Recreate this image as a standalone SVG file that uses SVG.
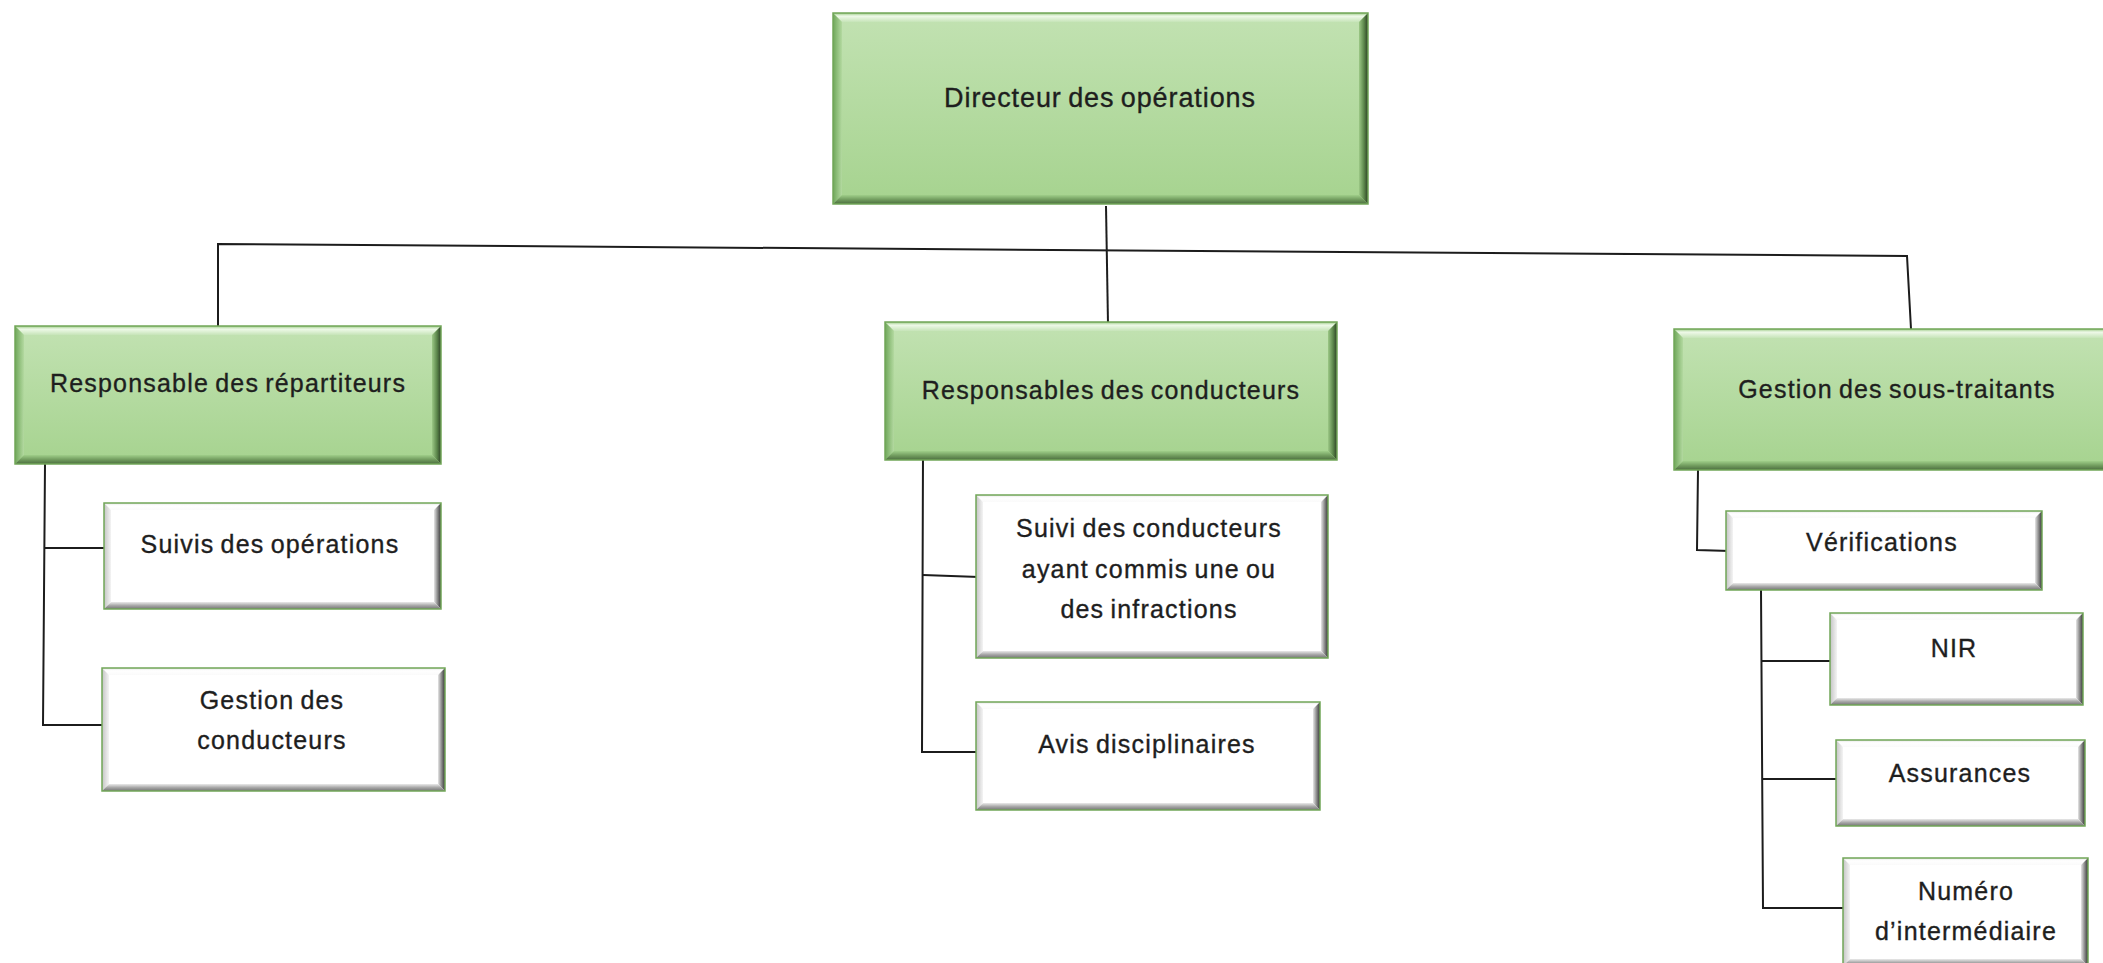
<svg xmlns="http://www.w3.org/2000/svg" width="2103" height="963" viewBox="0 0 2103 963">
<style>
.gface{fill:url(#gFace)}
.wface{fill:#ffffff}
.gT{fill:url(#gTopG)} .gL{fill:url(#gLeftG)} .gR{fill:url(#gRightG)} .gB{fill:url(#gBottomG)}
.wT{fill:url(#gTopW)} .wL{fill:url(#gLeftW)} .wR{fill:url(#gRightW)} .wB{fill:url(#gBottomW)}
.bd{fill:none;stroke:#72a658;stroke-width:1.5}
.t{font-family:"Liberation Sans",Arial,sans-serif;font-size:25px;letter-spacing:1.2px;word-spacing:-2px;fill:#1e1e1e;stroke:#1e1e1e;stroke-width:0.35px;text-anchor:middle}
.tb{font-size:27px;letter-spacing:0.9px}
.cn{fill:none;stroke:#1c1c1c;stroke-width:2;stroke-linejoin:miter}
</style>
<defs>
<linearGradient id="gFace" x1="0" y1="0" x2="0" y2="1"><stop offset="0" stop-color="#c2e2b2"/><stop offset="1" stop-color="#a6d38f"/></linearGradient>
<linearGradient id="gTopG" x1="0" y1="0" x2="0" y2="1"><stop offset="0" stop-color="#9ccb86"/><stop offset="0.35" stop-color="#eef9e8"/><stop offset="1" stop-color="#c6e4b8"/></linearGradient>
<linearGradient id="gLeftG" x1="0" y1="0" x2="1" y2="0"><stop offset="0" stop-color="#6fa75a"/><stop offset="1" stop-color="#b3d9a0"/></linearGradient>
<linearGradient id="gRightG" x1="0" y1="0" x2="1" y2="0"><stop offset="0" stop-color="#9cc886"/><stop offset="0.55" stop-color="#5c874b"/><stop offset="1" stop-color="#2b3f24"/></linearGradient>
<linearGradient id="gBottomG" x1="0" y1="0" x2="0" y2="1"><stop offset="0" stop-color="#9fce89"/><stop offset="0.5" stop-color="#729d5f"/><stop offset="1" stop-color="#4c6e3f"/></linearGradient>
<linearGradient id="gTopW" x1="0" y1="0" x2="0" y2="1"><stop offset="0" stop-color="#e6e6e6"/><stop offset="0.4" stop-color="#ffffff"/><stop offset="1" stop-color="#fafafa"/></linearGradient>
<linearGradient id="gLeftW" x1="0" y1="0" x2="1" y2="0"><stop offset="0" stop-color="#c4c4c4"/><stop offset="1" stop-color="#f4f4f4"/></linearGradient>
<linearGradient id="gRightW" x1="0" y1="0" x2="1" y2="0"><stop offset="0" stop-color="#e6e6e6"/><stop offset="0.55" stop-color="#848484"/><stop offset="1" stop-color="#363636"/></linearGradient>
<linearGradient id="gBottomW" x1="0" y1="0" x2="0" y2="1"><stop offset="0" stop-color="#eaeaea"/><stop offset="0.5" stop-color="#a8a8a8"/><stop offset="1" stop-color="#747474"/></linearGradient>
</defs>

<g id="connectors">
<polyline class="cn" points="1106,206 1108,324"/>
<polyline class="cn" points="218,327 218,244 1907,256 1911,329"/>
<polyline class="cn" points="45,464 43,725 103,725"/>
<polyline class="cn" points="45,548 110,548"/>
<polyline class="cn" points="923,453 922,752 979,752"/>
<polyline class="cn" points="923,575 979,577"/>
<polyline class="cn" points="1698,470 1697,550 1730,551"/>
<polyline class="cn" points="1761,590 1763,908 1846,908"/>
<polyline class="cn" points="1762,661 1832,661"/>
<polyline class="cn" points="1763,779 1838,779"/>
</g>

<g id="node-directeur">
<rect class="gface" x="833" y="13" width="535" height="191"/>
<polygon class="gT" points="833,13 1368,13 1359,22 842,22"/>
<polygon class="gL" points="833,13 842,22 842,195 833,204"/>
<polygon class="gR" points="1368,13 1368,204 1359,195 1359,22"/>
<polygon class="gB" points="833,204 1368,204 1359,195 842,195"/>
<rect class="bd" x="833" y="13" width="535" height="191"/>
<text class="t tb" x="1100" y="107">Directeur des opérations</text>
</g>

<g id="node-repartiteurs">
<rect class="gface" x="15" y="326" width="426" height="138"/>
<polygon class="gT" points="15,326 441,326 432,335 24,335"/>
<polygon class="gL" points="15,326 24,335 24,455 15,464"/>
<polygon class="gR" points="441,326 441,464 432,455 432,335"/>
<polygon class="gB" points="15,464 441,464 432,455 24,455"/>
<rect class="bd" x="15" y="326" width="426" height="138"/>
<text class="t" x="228" y="392">Responsable des répartiteurs</text>
</g>

<g id="node-conducteurs">
<rect class="gface" x="885" y="322" width="452" height="138"/>
<polygon class="gT" points="885,322 1337,322 1328,331 894,331"/>
<polygon class="gL" points="885,322 894,331 894,451 885,460"/>
<polygon class="gR" points="1337,322 1337,460 1328,451 1328,331"/>
<polygon class="gB" points="885,460 1337,460 1328,451 894,451"/>
<rect class="bd" x="885" y="322" width="452" height="138"/>
<text class="t" x="1111" y="399">Responsables des conducteurs</text>
</g>

<g id="node-soustraitants">
<rect class="gface" x="1674" y="329" width="438" height="141"/>
<polygon class="gT" points="1674,329 2112,329 2103,338 1683,338"/>
<polygon class="gL" points="1674,329 1683,338 1683,461 1674,470"/>
<polygon class="gB" points="1674,470 2112,470 2103,461 1683,461"/>
<rect class="bd" x="1674" y="329" width="438" height="141"/>
<text class="t" x="1897" y="398">Gestion des sous-traitants</text>
</g>

<g id="node-suivis-operations">
<rect class="wface" x="104" y="503" width="337" height="106"/>
<polygon class="wT" points="104,503 441,503 434,510 111,510"/>
<polygon class="wL" points="104,503 111,510 111,602 104,609"/>
<polygon class="wR" points="441,503 441,609 434,602 434,510"/>
<polygon class="wB" points="104,609 441,609 434,602 111,602"/>
<rect class="bd" x="104" y="503" width="337" height="106"/>
<text class="t" x="270" y="553">Suivis des opérations</text>
</g>

<g id="node-gestion-conducteurs">
<rect class="wface" x="102" y="668" width="343" height="123"/>
<polygon class="wT" points="102,668 445,668 438,675 109,675"/>
<polygon class="wL" points="102,668 109,675 109,784 102,791"/>
<polygon class="wR" points="445,668 445,791 438,784 438,675"/>
<polygon class="wB" points="102,791 445,791 438,784 109,784"/>
<rect class="bd" x="102" y="668" width="343" height="123"/>
<text class="t" x="272" y="709">Gestion des</text>
<text class="t" x="272" y="749">conducteurs</text>
</g>

<g id="node-suivi-infractions">
<rect class="wface" x="976" y="495" width="352" height="163"/>
<polygon class="wT" points="976,495 1328,495 1321,502 983,502"/>
<polygon class="wL" points="976,495 983,502 983,651 976,658"/>
<polygon class="wR" points="1328,495 1328,658 1321,651 1321,502"/>
<polygon class="wB" points="976,658 1328,658 1321,651 983,651"/>
<rect class="bd" x="976" y="495" width="352" height="163"/>
<text class="t" x="1149" y="537">Suivi des conducteurs</text>
<text class="t" x="1149" y="578">ayant commis une ou</text>
<text class="t" x="1149" y="618">des infractions</text>
</g>

<g id="node-avis">
<rect class="wface" x="976" y="702" width="344" height="108"/>
<polygon class="wT" points="976,702 1320,702 1313,709 983,709"/>
<polygon class="wL" points="976,702 983,709 983,803 976,810"/>
<polygon class="wR" points="1320,702 1320,810 1313,803 1313,709"/>
<polygon class="wB" points="976,810 1320,810 1313,803 983,803"/>
<rect class="bd" x="976" y="702" width="344" height="108"/>
<text class="t" x="1147" y="753">Avis disciplinaires</text>
</g>

<g id="node-verifications">
<rect class="wface" x="1726" y="511" width="316" height="79"/>
<polygon class="wT" points="1726,511 2042,511 2035,518 1733,518"/>
<polygon class="wL" points="1726,511 1733,518 1733,583 1726,590"/>
<polygon class="wR" points="2042,511 2042,590 2035,583 2035,518"/>
<polygon class="wB" points="1726,590 2042,590 2035,583 1733,583"/>
<rect class="bd" x="1726" y="511" width="316" height="79"/>
<text class="t" x="1882" y="551">Vérifications</text>
</g>

<g id="node-nir">
<rect class="wface" x="1830" y="613" width="253" height="92"/>
<polygon class="wT" points="1830,613 2083,613 2076,620 1837,620"/>
<polygon class="wL" points="1830,613 1837,620 1837,698 1830,705"/>
<polygon class="wR" points="2083,613 2083,705 2076,698 2076,620"/>
<polygon class="wB" points="1830,705 2083,705 2076,698 1837,698"/>
<rect class="bd" x="1830" y="613" width="253" height="92"/>
<text class="t" x="1954" y="657">NIR</text>
</g>

<g id="node-assurances">
<rect class="wface" x="1836" y="740" width="249" height="86"/>
<polygon class="wT" points="1836,740 2085,740 2078,747 1843,747"/>
<polygon class="wL" points="1836,740 1843,747 1843,819 1836,826"/>
<polygon class="wR" points="2085,740 2085,826 2078,819 2078,747"/>
<polygon class="wB" points="1836,826 2085,826 2078,819 1843,819"/>
<rect class="bd" x="1836" y="740" width="249" height="86"/>
<text class="t" x="1960" y="782">Assurances</text>
</g>

<g id="node-numero">
<rect class="wface" x="1843" y="858" width="245" height="108"/>
<polygon class="wT" points="1843,858 2088,858 2081,865 1850,865"/>
<polygon class="wL" points="1843,858 1850,865 1850,959 1843,966"/>
<polygon class="wR" points="2088,858 2088,966 2081,959 2081,865"/>
<polygon class="wB" points="1843,966 2088,966 2081,959 1850,959"/>
<rect class="bd" x="1843" y="858" width="245" height="108"/>
<text class="t" x="1966" y="900">Numéro</text>
<text class="t" x="1966" y="940">d’intermédiaire</text>
</g>
</svg>
